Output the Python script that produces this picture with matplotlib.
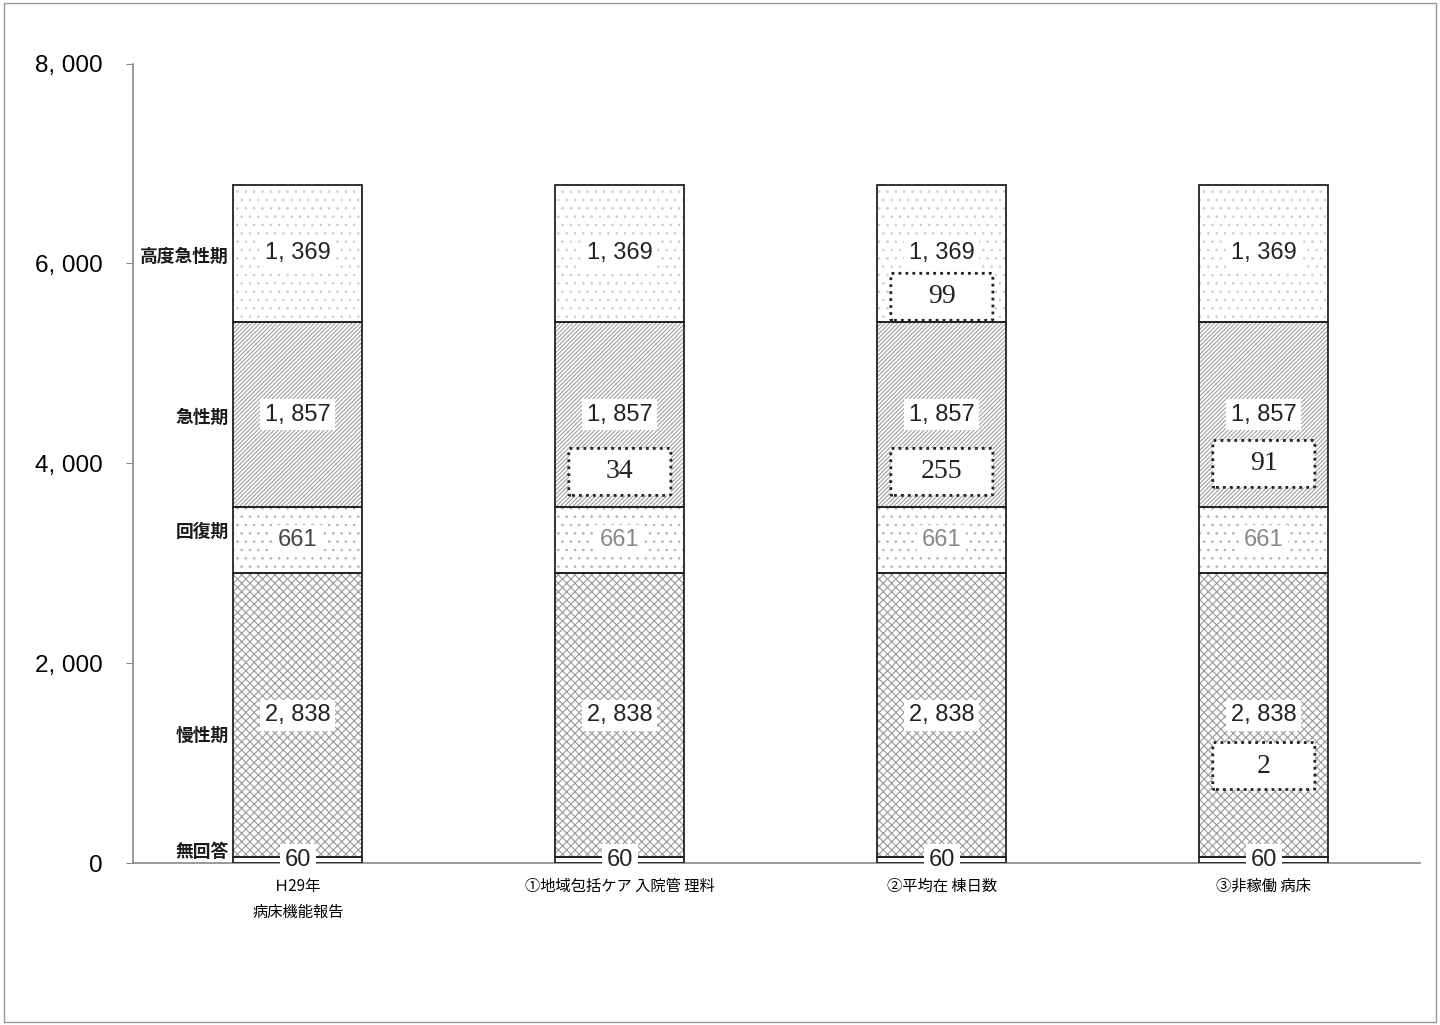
import matplotlib
matplotlib.use('Agg')

import numpy as np
import matplotlib.pyplot as plt
from matplotlib.patches import FancyBboxPatch, Rectangle

plt.rcParams['font.family'] = ['Noto Sans CJK JP', 'DejaVu Sans']

categories = ["Ｈ29年\n病床機能報告", "①地域包括ケア 入院管 理料", "②平均在 棟日数", "③非稼働 病床"]
segments = ["無回答", "慢性期", "回復期", "急性期", "高度急性期"]
values = [60, 2838, 661, 1857, 1369]
value_labels = ["60", "2, 838", "661", "1, 857", "1, 369"]
yticks = [0, 2000, 4000, 6000, 8000]
ytick_labels = ["0", "2, 000", "4, 000", "6, 000", "8, 000"]

# 点線枠の内訳 (カテゴリ番号, 区分, 値)
extra = [(2, "高度急性期", 99), (1, "急性期", 34), (2, "急性期", 255),
         (3, "急性期", 91), (3, "慢性期", 2)]

hatches = ["", "xxxx", "..", "////////", ".."]
hcolors = ["#999999", "#9a9a9a", "#b0b0b0", "#a0a0a0", "#c8c8c8"]
hlw = [0.8, 0.8, 0.6, 0.8, 0.5]

fig = plt.figure(figsize=(14.4, 10.25), dpi=100)
ax = fig.add_axes([133 / 1440, 0.158, 1287 / 1440, 0.78])

x = np.arange(len(categories))
bottom = np.zeros(len(categories))
bw = 0.4
# 左側の区分ラベルの縦方向の微調整
lab_shift = {0: 80, 1: -210, 2: 80, 3: -30, 4: -40}
for i, seg in enumerate(segments):
    v = np.full(len(categories), values[i])
    plt.rcParams['hatch.linewidth'] = hlw[i]
    ax.bar(x, v, bw, bottom=bottom, color="white", edgecolor=hcolors[i],
           hatch=hatches[i], linewidth=0, zorder=2)
    ax.bar(x, v, bw, bottom=bottom, fill=False, edgecolor="#222222",
           linewidth=1.3, zorder=3)
    for k in x:
        col = "#222222"
        if seg == "回復期":
            col = "#444444" if k == 0 else "#888888"
        ax.text(k, bottom[k] + values[i] / 2, value_labels[i], ha="center",
                va="center", fontsize=17, color=col, family="Liberation Sans",
                zorder=5,
                bbox=dict(boxstyle="square,pad=0.2", fc="white", ec="none"))
    ax.text(-0.215, bottom[0] + values[i] / 2 + lab_shift[i], seg,
            ha="right", va="center", fontsize=12.8, fontweight="bold",
            color="#1a1a1a")
    bottom = bottom + v

seg_bottom = dict(zip(segments, np.cumsum([0] + values[:-1])))
offset = {(2, "高度急性期"): 250, (1, "急性期"): 355, (2, "急性期"): 355,
          (3, "急性期"): 435, (3, "慢性期"): 911}
bx_w, bx_h = 0.317, 470
for k, seg, val in extra:
    yc = seg_bottom[seg] + offset[(k, seg)]
    ax.add_patch(FancyBboxPatch((k - bx_w / 2, yc - bx_h / 2), bx_w, bx_h,
                                boxstyle="round,pad=0,rounding_size=0.01",
                                fc="white", ec="#222222", ls=(0, (1, 1.5)),
                                lw=2, zorder=6, mutation_aspect=1000))
    ax.text(k, yc, str(val), ha="center", va="center", fontsize=20,
            family="Liberation Serif", color="#222222", zorder=7)

ax.set_xlim(-0.512, 3.485)
ax.set_ylim(0, 8000)
ax.set_yticks(yticks)
ax.set_yticklabels(ytick_labels, fontsize=17.5, family="Liberation Sans")
ax.set_xticks(x)
ax.set_xticklabels(categories, fontsize=11, linespacing=1.7)
ax.tick_params(axis="x", length=0, pad=11)
ax.tick_params(axis="y", length=5, color="#888888", pad=17)
for s in ["top", "right"]:
    ax.spines[s].set_visible(False)
for s in ["left", "bottom"]:
    ax.spines[s].set_color("#888888")
    ax.spines[s].set_linewidth(1.2)

fig.add_artist(Rectangle((0.003, 0.003), 0.994, 0.994, transform=fig.transFigure,
                         fill=False, ec="#999999", lw=1))

fig.savefig("out.png", dpi=100)
